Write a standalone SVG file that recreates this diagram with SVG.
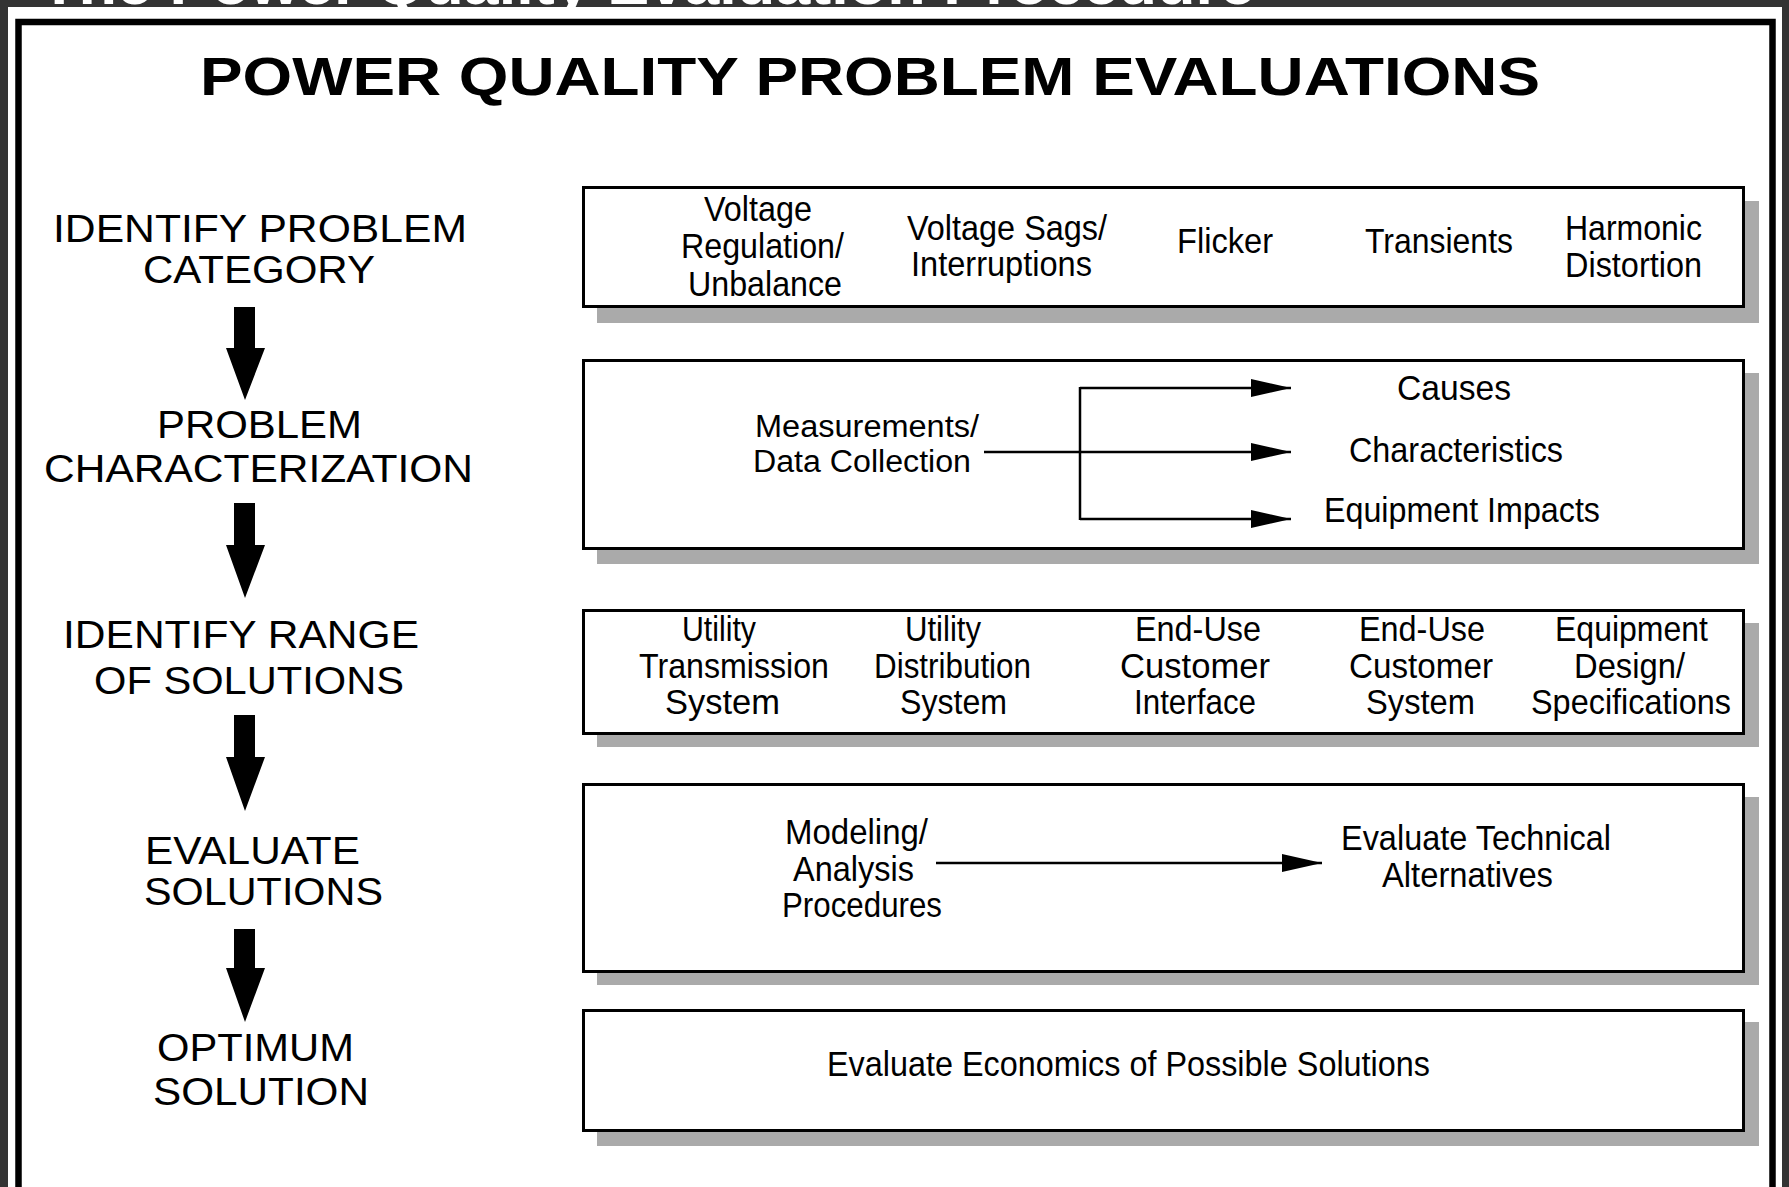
<svg xmlns="http://www.w3.org/2000/svg" width="1789" height="1187" viewBox="0 0 1789 1187">
<style>
.t{font-family:"Liberation Sans",Arial,sans-serif;fill:#000}
.lbl{font-size:38px}
.bx{font-size:35px}
.sm{font-size:31px}
.title{font-size:53px;font-weight:bold}
.box{fill:#fff;stroke:#000;stroke-width:3}
.shadow{fill:#aaaaaa}
.ln{stroke:#000;stroke-width:2.5;fill:none}
.big{fill:#000}
</style>
<defs>
<marker id="ah" markerUnits="userSpaceOnUse" markerWidth="42" markerHeight="18" refX="40" refY="9" orient="auto">
<path d="M0,0 L40,9 L0,18 Z" fill="#000"/>
</marker>
</defs>
<rect x="0" y="0" width="1789" height="1187" fill="#333333"/>
<text x="40" y="4" class="t" style="fill:#fff;font-size:60px;font-weight:bold" textLength="1215" lengthAdjust="spacingAndGlyphs">The Power Quality Evaluation Procedure</text>
<rect x="8" y="7" width="1774" height="1185" fill="#fff"/>
<rect x="18.5" y="22" width="1754" height="1170" fill="none" stroke="#000" stroke-width="6.5"/>
<text x="200" y="95" class="t title" textLength="1340" lengthAdjust="spacingAndGlyphs">POWER QUALITY PROBLEM EVALUATIONS</text>

<g id="step1">
<text x="53" y="242" class="t lbl" textLength="414" lengthAdjust="spacingAndGlyphs">IDENTIFY PROBLEM</text>
<text x="143" y="283" class="t lbl" textLength="232" lengthAdjust="spacingAndGlyphs">CATEGORY</text>
</g>
<g id="step2">
<text x="157" y="438" class="t lbl" textLength="205" lengthAdjust="spacingAndGlyphs">PROBLEM</text>
<text x="44" y="482" class="t lbl" textLength="429" lengthAdjust="spacingAndGlyphs">CHARACTERIZATION</text>
</g>
<g id="step3">
<text x="63" y="648" class="t lbl" textLength="356" lengthAdjust="spacingAndGlyphs">IDENTIFY RANGE</text>
<text x="94" y="694" class="t lbl" textLength="310" lengthAdjust="spacingAndGlyphs">OF SOLUTIONS</text>
</g>
<g id="step4">
<text x="145" y="864" class="t lbl" textLength="215" lengthAdjust="spacingAndGlyphs">EVALUATE</text>
<text x="144" y="905" class="t lbl" textLength="239" lengthAdjust="spacingAndGlyphs">SOLUTIONS</text>
</g>
<g id="step5">
<text x="157" y="1061" class="t lbl" textLength="197" lengthAdjust="spacingAndGlyphs">OPTIMUM</text>
<text x="153" y="1105" class="t lbl" textLength="216" lengthAdjust="spacingAndGlyphs">SOLUTION</text>
</g>

<g id="box1">
<rect x="597" y="201" width="1162" height="122" class="shadow"/>
<rect x="583.5" y="187.5" width="1160" height="119" class="box"/>
<text x="704" y="221" class="t bx" textLength="108" lengthAdjust="spacingAndGlyphs">Voltage</text>
<text x="681" y="258" class="t bx" textLength="163" lengthAdjust="spacingAndGlyphs">Regulation/</text>
<text x="688" y="296" class="t bx" textLength="154" lengthAdjust="spacingAndGlyphs">Unbalance</text>
<text x="907" y="240" class="t bx" textLength="200" lengthAdjust="spacingAndGlyphs">Voltage Sags/</text>
<text x="911" y="276" class="t bx" textLength="181" lengthAdjust="spacingAndGlyphs">Interruptions</text>
<text x="1177" y="253" class="t bx" textLength="96" lengthAdjust="spacingAndGlyphs">Flicker</text>
<text x="1365" y="253" class="t bx" textLength="148" lengthAdjust="spacingAndGlyphs">Transients</text>
<text x="1565" y="240" class="t bx" textLength="137" lengthAdjust="spacingAndGlyphs">Harmonic</text>
<text x="1565" y="277" class="t bx" textLength="137" lengthAdjust="spacingAndGlyphs">Distortion</text>
</g>

<g id="box2">
<rect x="597" y="373" width="1162" height="191" class="shadow"/>
<rect x="583.5" y="360.5" width="1160" height="188" class="box"/>
<text x="755" y="437" class="t sm" textLength="224" lengthAdjust="spacingAndGlyphs">Measurements/</text>
<text x="753" y="472" class="t sm" textLength="218" lengthAdjust="spacingAndGlyphs">Data Collection</text>
<text x="1397" y="400" class="t bx" textLength="114" lengthAdjust="spacingAndGlyphs">Causes</text>
<text x="1349" y="462" class="t bx" textLength="214" lengthAdjust="spacingAndGlyphs">Characteristics</text>
<text x="1324" y="522" class="t bx" textLength="276" lengthAdjust="spacingAndGlyphs">Equipment Impacts</text>
</g>

<g id="box3">
<rect x="597" y="623" width="1162" height="124" class="shadow"/>
<rect x="583.5" y="610.5" width="1160" height="123" class="box"/>
<text x="682" y="641" class="t bx" textLength="74" lengthAdjust="spacingAndGlyphs">Utility</text>
<text x="639" y="678" class="t bx" textLength="190" lengthAdjust="spacingAndGlyphs">Transmission</text>
<text x="665" y="714" class="t bx" textLength="115" lengthAdjust="spacingAndGlyphs">System</text>
<text x="905" y="641" class="t bx" textLength="76" lengthAdjust="spacingAndGlyphs">Utility</text>
<text x="874" y="678" class="t bx" textLength="157" lengthAdjust="spacingAndGlyphs">Distribution</text>
<text x="900" y="714" class="t bx" textLength="107" lengthAdjust="spacingAndGlyphs">System</text>
<text x="1135" y="641" class="t bx" textLength="126" lengthAdjust="spacingAndGlyphs">End-Use</text>
<text x="1120" y="678" class="t bx" textLength="150" lengthAdjust="spacingAndGlyphs">Customer</text>
<text x="1134" y="714" class="t bx" textLength="122" lengthAdjust="spacingAndGlyphs">Interface</text>
<text x="1359" y="641" class="t bx" textLength="126" lengthAdjust="spacingAndGlyphs">End-Use</text>
<text x="1349" y="678" class="t bx" textLength="144" lengthAdjust="spacingAndGlyphs">Customer</text>
<text x="1366" y="714" class="t bx" textLength="109" lengthAdjust="spacingAndGlyphs">System</text>
<text x="1555" y="641" class="t bx" textLength="153" lengthAdjust="spacingAndGlyphs">Equipment</text>
<text x="1574" y="678" class="t bx" textLength="111" lengthAdjust="spacingAndGlyphs">Design/</text>
<text x="1531" y="714" class="t bx" textLength="200" lengthAdjust="spacingAndGlyphs">Specifications</text>
</g>

<g id="box4">
<rect x="597" y="797" width="1162" height="188" class="shadow"/>
<rect x="583.5" y="784.5" width="1160" height="187" class="box"/>
<text x="785" y="844" class="t bx" textLength="143" lengthAdjust="spacingAndGlyphs">Modeling/</text>
<text x="793" y="881" class="t bx" textLength="121" lengthAdjust="spacingAndGlyphs">Analysis</text>
<text x="782" y="917" class="t bx" textLength="160" lengthAdjust="spacingAndGlyphs">Procedures</text>
<text x="1341" y="850" class="t bx" textLength="270" lengthAdjust="spacingAndGlyphs">Evaluate Technical</text>
<text x="1382" y="887" class="t bx" textLength="171" lengthAdjust="spacingAndGlyphs">Alternatives</text>
</g>

<g id="box5">
<rect x="597" y="1022" width="1162" height="124" class="shadow"/>
<rect x="583.5" y="1010.5" width="1160" height="120" class="box"/>
<text x="827" y="1076" class="t bx" textLength="603" lengthAdjust="spacingAndGlyphs">Evaluate Economics of Possible Solutions</text>
</g>

<g id="connectors">
<polygon class="big" points="234,307 255,307 255,348 265,348 245,400 226,348 234,348"/>
<polygon class="big" points="234,503 255,503 255,545 265,545 245,598 226,545 234,545"/>
<polygon class="big" points="234,715 255,715 255,757 265,757 245,811 226,757 234,757"/>
<polygon class="big" points="234,929 255,929 255,968 265,968 245,1022 226,968 234,968"/>
<line x1="984" y1="452" x2="1080" y2="452" class="ln"/>
<line x1="1080" y1="387" x2="1080" y2="520" class="ln"/>
<line x1="1080" y1="388" x2="1291" y2="388" class="ln" marker-end="url(#ah)"/>
<line x1="1080" y1="452" x2="1291" y2="452" class="ln" marker-end="url(#ah)"/>
<line x1="1080" y1="519" x2="1291" y2="519" class="ln" marker-end="url(#ah)"/>
<line x1="936" y1="863" x2="1322" y2="863" class="ln" marker-end="url(#ah)"/>
</g>
</svg>
